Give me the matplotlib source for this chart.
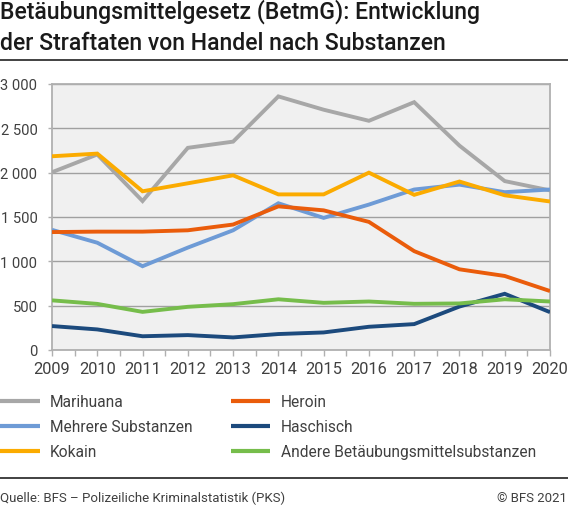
import numpy as np
import matplotlib
matplotlib.use('Agg')
import matplotlib.pyplot as plt
from matplotlib.ticker import FuncFormatter, MultipleLocator

plt.rcParams['font.family'] = ['Roboto', 'DejaVu Sans']

###############################################################################
# Daten
###############################################################################
jahre = [2009, 2010, 2011, 2012, 2013, 2014, 2015, 2016, 2017, 2018, 2019, 2020]

marihuana = [2005, 2205, 1680, 2280, 2350, 2860, 2710, 2585, 2795, 2305, 1905, 1800]
mehrere   = [1355, 1210,  945, 1155, 1350, 1655, 1490, 1640, 1810, 1865, 1780, 1810]
kokain    = [2185, 2215, 1790, 1880, 1970, 1755, 1755, 2000, 1750, 1900, 1745, 1675]
heroin    = [1330, 1335, 1335, 1350, 1415, 1620, 1575, 1445, 1115,  910,  835,  665]
haschisch = [ 270,  232,  155,  168,  142,  180,  198,  262,  292,  490,  634,  427]
andere    = [ 560,  520,  430,  487,  517,  572,  532,  547,  521,  525,  572,  547]

serien = [
    ('Marihuana', marihuana, '#a7a7a7'),
    ('Mehrere Substanzen', mehrere, '#6e9bd6'),
    ('Kokain', kokain, '#fbab00'),
    ('Heroin', heroin, '#ea5c0b'),
    ('Haschisch', haschisch, '#1c4a7d'),
    ('Andere Betäubungsmittelsubstanzen', andere, '#76bd4b'),
]

titel = ['Betäubungsmittelgesetz (BetmG): Entwicklung',
         'der Straftaten von Handel nach Substanzen']
quelle = 'Quelle: BFS – Polizeiliche Kriminalstatistik (PKS)'
copyright = '© BFS 2021'

###############################################################################
W, H = 568, 506
fig = plt.figure(figsize=(W/100, H/100), dpi=100)
ax = fig.add_axes([52/W, 1-351/H, (550-52)/W, (351-85)/H])
ax.set_facecolor('#f0f0f0')

for name, werte, farbe in serien:
    ax.plot(jahre, werte, color=farbe, lw=2.8, label=name, solid_capstyle='butt',
            solid_joinstyle='miter', zorder=3)

ax.set_xlim(2009, 2020)
ax.set_ylim(0, 3000)
ax.xaxis.set_major_locator(MultipleLocator(1))
ax.xaxis.set_minor_locator(MultipleLocator(0.5))
ax.yaxis.set_major_locator(MultipleLocator(500))
ax.yaxis.set_major_formatter(FuncFormatter(lambda v, p: f'{int(v):,}'.replace(',', ' ')))

ax.grid(axis='y', color='#a0a0a0', lw=1.0, zorder=1)
for s in ax.spines.values():
    s.set_color('#b0b0b0')
    s.set_linewidth(1.3)

ax.tick_params(axis='x', which='both', length=4, width=1, color='#b0b0b0',
               labelsize=11.8, labelcolor='#404040', pad=4)
ax.tick_params(axis='y', length=3, width=1, color='#b0b0b0',
               labelsize=10.6, labelcolor='#404040', pad=7.5)

# Titel
for i, zeile in enumerate(titel):
    fig.text(0, 1-(19+31*i)/H, zeile, fontsize=16.6, fontweight='medium',
             color='#1a1a1a', va='baseline', ha='left')
fig.add_artist(plt.Line2D([0, 1], [1-61/H, 1-61/H], color='#333333', lw=1.3))

# Legende
leg = fig.legend(loc='upper left', bbox_to_anchor=(0, 1-395/H), ncol=2, frameon=False,
                 fontsize=11.2, handlelength=2.55, handletextpad=0.67, columnspacing=2.45,
                 labelspacing=0.65, borderaxespad=0, borderpad=0)
for t in leg.get_texts():
    t.set_color('#404040')
for l in leg.get_lines():
    l.set_linewidth(3)

# Fusszeile
fig.add_artist(plt.Line2D([0, 1], [1-479/H, 1-479/H], color='#333333', lw=1.3))
fig.text(0, 1-502/H, quelle, fontsize=9.5, color='#404040', ha='left', va='baseline')
fig.text(1-1/W, 1-502/H, copyright, fontsize=9.5, color='#404040', ha='right', va='baseline')

fig.savefig('out.png', dpi=100)
